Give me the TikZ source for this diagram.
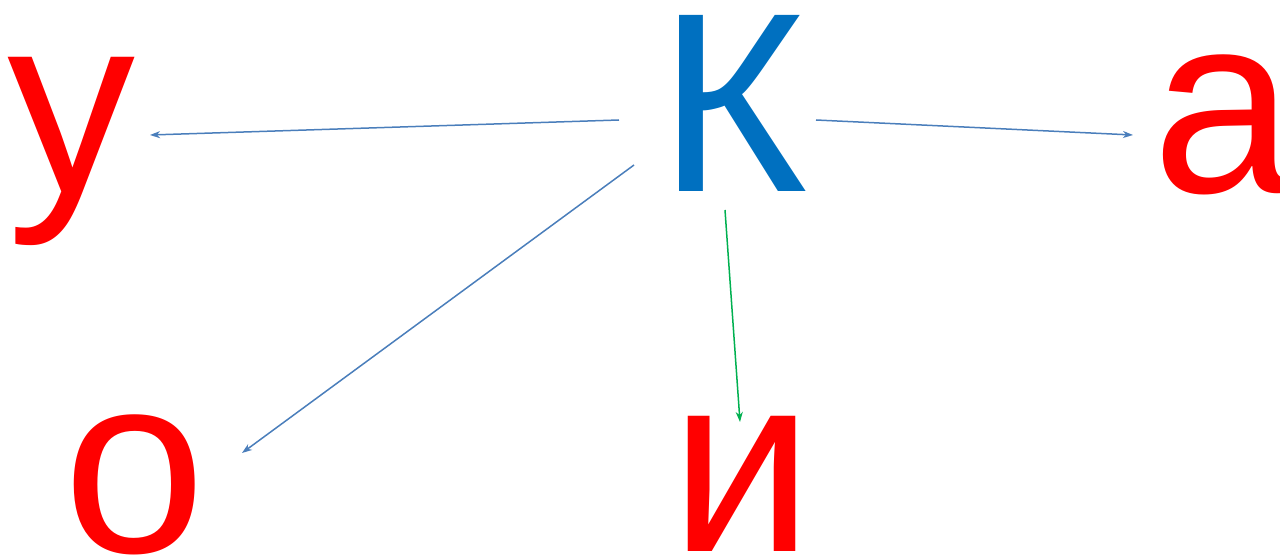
\documentclass[tikz,border=0pt]{standalone}
\usepackage{fontspec}
\setmainfont{Liberation Sans}
\usetikzlibrary{arrows.meta}
\definecolor{kblue}{HTML}{0070C0}
\definecolor{lred}{HTML}{FF0000}
\definecolor{ablue}{HTML}{4A7EBB}
\definecolor{agreen}{HTML}{00B050}
\tikzset{
  letter/.style={inner sep=0pt, outer sep=0pt, anchor=base, text height=133pt, text depth=0pt, font=\fontsize{256}{256}\selectfont},
  arr/.style={line width=1.5pt, -{Stealth[length=10pt,width=7pt,inset=3pt]}},
}
\begin{document}
\begin{tikzpicture}[x=1pt,y=1pt]
\useasboundingbox (0,0) rectangle (1280,555);
\node[letter, text=kblue, text height=183pt] (K) at (733,363) {К};
\node[letter, text=lred, text depth=52pt] (u) at (72,362) {у};
\node[letter, text=lred] (a) at (1224,362) {а};
\node[letter, text=lred] (o) at (135,3) {о};
\node[letter, text=lred] (i) at (742,4) {и};
\coordinate (Ku) at ([shift={(-114,72)}]K.base);
\coordinate (uK) at ([shift={(78,58)}]u.base);
\coordinate (Ka) at ([shift={(83,72)}]K.base);
\coordinate (aK) at ([shift={(-91,58)}]a.base);
\coordinate (Ko) at ([shift={(-99,27)}]K.base);
\coordinate (oK) at ([shift={(107,99)}]o.base);
\coordinate (Ki) at ([shift={(-8,-18)}]K.base);
\coordinate (iK) at ([shift={(-2,129)}]i.base);
\draw[arr, ablue] (Ku) -- (uK);
\draw[arr, ablue] (Ka) -- (aK);
\draw[arr, ablue] (Ko) -- (oK);
\draw[arr, agreen] (Ki) -- (iK);
\end{tikzpicture}
\end{document}
